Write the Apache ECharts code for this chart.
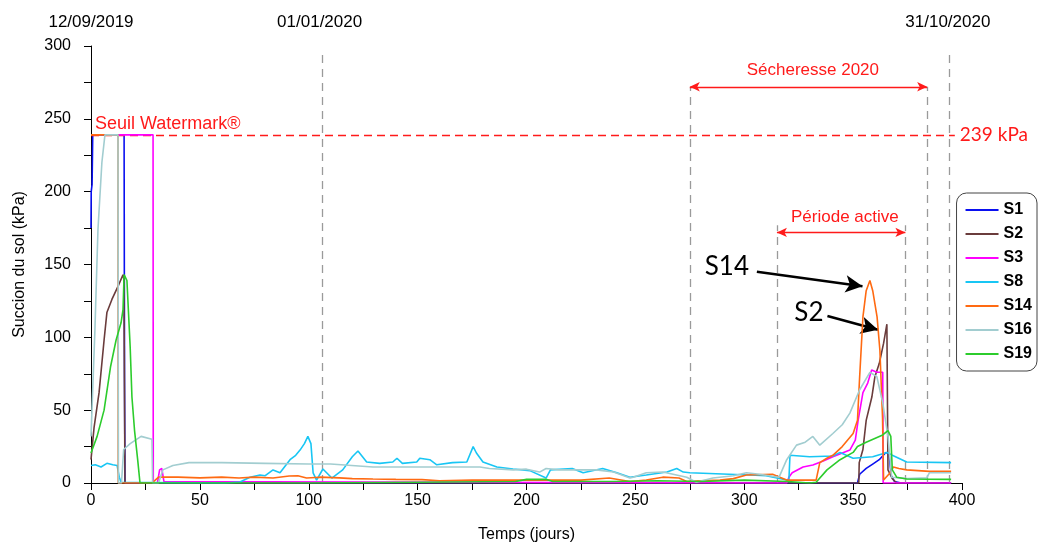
<!DOCTYPE html>
<html><head><meta charset="utf-8">
<script src="https://cdn.jsdelivr.net/npm/echarts@6/dist/echarts.min.js"></script>
<style>html,body{margin:0;padding:0;background:#fff}#c{width:1042px;height:544px}</style>
</head><body><div id="c"></div>
<script>
// ---- data (day, kPa) ----
const seriesNames = ['S1','S2','S3','S8','S14','S16','S19'];
const seriesColors = ['#0a10f0','#6a3c3c','#ff00ff','#18c6f4','#ff6a12','#a2cdd0','#2ccc2c'];

const s1 = [[0,175],[0.1,200],[0.5,205],[0.8,239],[15.2,239],[15.4,72],[15.6,0],[352,0],[353,6],[356,10],[359,13],[362,16],[365,21],[366.5,20],[367.5,5],[369,1],[372,0],[395,0]];
const s2 = [[0,16],[1.4,38],[3.7,62],[6,98],[7.3,117],[9.6,126],[12.4,135],[14.7,143],[15.1,140],[15.6,0],[352.6,0],[352.8,14],[354.5,23],[356,43],[358.6,59],[360,73],[362,82],[364,96],[365.5,109],[366,9],[368,3],[370,0],[395,0]];
const s3 = [[12.4,239],[28.5,239],[28.6,0],[30.5,0],[31.5,9],[32.5,10],[33.5,1],[34,0],[319.5,0],[320.5,4],[322,7],[327,11],[331.5,12.4],[336,15],[340.7,18],[348.5,22.6],[351,29.5],[352.3,43],[354.5,62],[356.7,68.6],[358.5,77.6],[360.9,76],[363.6,76],[363.8,0],[395,0]];
const s8 = [[0,12],[2,12.5],[4.6,11],[7.3,13.5],[10,12.5],[12,12],[13,4],[13.8,0.5],[14.5,0],[61.5,0],[68.4,0.7],[73,4],[77.6,5.5],[80,5],[83.6,9],[86.8,7],[91.4,16],[94,19],[96,22.6],[98,27],[99.6,32],[101,27],[102,7],[103.6,2],[106.5,9.6],[110.6,3.4],[115.6,9],[120,18],[122.6,22],[126.6,14.4],[132.6,13.5],[138.6,14.4],[140.5,17],[143,13.5],[149.6,14.4],[151,17],[155.6,16],[158.8,12.5],[166,14],[172.6,14.4],[175.5,25],[177,20.6],[180,14.4],[186.4,11],[193.8,9.6],[201.5,8.5],[209,3.4],[211,9],[221,10],[226,7],[235,10],[241.5,7],[247.5,4],[255,5.5],[264.5,7.5],[269,10],[272,7.5],[275,7],[293,6],[302.5,5.5],[310,5],[319.5,2],[320.5,2],[321,19],[330,18],[340.7,18.5],[344,21],[350,17],[359,18],[365.5,21],[368,19],[374.6,14.4],[395,14]];
const s14 = [[0,239],[12.4,239],[12.5,0],[28,0],[29.5,2],[31,4],[40,4],[50,3.5],[60,4],[68,3.4],[75,4],[83.6,3.4],[91,4.8],[95,5],[99,3.4],[105,4],[114,3.5],[120,3],[129.5,2.7],[140,2.5],[152,2.3],[160,1.5],[175,2],[190,2],[210,2],[225,2],[238,3.4],[247.5,1],[255,2],[262.6,4],[270,3.4],[273.6,1],[280,1.5],[288.8,2],[295,3],[301,5.5],[313,6],[316.3,4],[319.5,2],[333,2],[334.7,14],[337.9,17],[340.7,19],[345,25],[350,34],[352,43],[353,73],[354.5,114],[356,132],[357.7,139],[359,132],[361,114],[362.3,91],[363.5,45],[364,2],[367,7],[368.5,11],[371,10],[374.6,9],[385,8],[395,8]];
const s16 = [[0,32],[1.8,105],[3.2,174],[5,220],[6.4,239],[12.4,239],[12.6,0],[14,0],[15,23],[18,27],[23,32],[28,30],[28.3,0],[31,0],[33,9],[37.6,12],[45,14],[60,14],[80,13.5],[100,13],[110,13],[129.5,11],[155.6,11],[178.6,11],[183,10],[194,9],[200,9.5],[206,7.5],[209,10],[215,9],[224.5,9],[232,9],[240,7.5],[247.5,3.5],[249,4],[255,7],[262.6,7.5],[273.6,4],[278,0.5],[285.6,3.4],[295,5],[301,7],[307,6],[316,4],[319.5,16],[324,26],[328,28],[331.5,32],[334.7,26],[340.7,34],[345,40],[348.5,48],[353,64],[357.7,76],[360.9,73],[363.6,55],[366,32],[367.7,4],[375,3],[383.8,3.5],[385,7],[395,7]];
const s19 = [[0,20.6],[2.8,32],[6,50],[9,80],[11.5,98],[13.8,110],[14.7,119],[15.2,143],[16.5,139],[18,93],[18.8,59],[20,36],[21.5,15],[22.5,0],[100,0],[150,0.5],[195,1],[200,2.5],[209,2.5],[212,1],[240,1],[260,1.5],[280,1],[300,2],[320,1],[330,0],[333,0.5],[338,9],[344,16],[350,21],[352,25],[356,28],[363.6,33],[366,36],[367.3,32],[368,9],[370,4],[374.6,2.7],[395,2.5]];
const seriesData = [s1,s2,s3,s8,s14,s16,s19];

// annotations (data units)
const thresholdValue = 239;
const markerDays = [106,275,315,374,384,394];
const markerTops = [296,272,177,177,272,296];
const topDateLabels = ['12/09/2019','01/01/2020','31/10/2020'];
const topDateDays = [0,105,393.5];
const droughtSpan = [275,384,272];
const activeSpan = [315,374,172];
const arrowS14 = [[305.8,145],[354.3,135.1]];
const arrowS2 = [[338.2,114.6],[361.4,105.2]];

const chart = echarts.init(document.getElementById('c'), null, {renderer:'canvas'});
const AX = 'Liberation Sans, Arial, sans-serif';

const markData = [];
markerDays.forEach((d,i)=>markData.push([{coord:[d,0],lineStyle:{color:'#9a9a9a',type:[8,6],width:1.3}},{coord:[d,markerTops[i]]}]));
markData.push([{coord:[0,thresholdValue],lineStyle:{color:'#ff1a1a',type:[8,5],width:1.3}},{coord:[396.7,thresholdValue]}]);
markData.push([{coord:[droughtSpan[0],droughtSpan[2]],symbol:'arrow',lineStyle:{color:'#ff1a1a',type:'solid',width:1.3}},{coord:[droughtSpan[1],droughtSpan[2]],symbol:'arrow'}]);
markData.push([{coord:[activeSpan[0],activeSpan[2]],symbol:'arrow',lineStyle:{color:'#ff1a1a',type:'solid',width:1.3}},{coord:[activeSpan[1],activeSpan[2]],symbol:'arrow'}]);

const arrowData = [
  [{coord:arrowS14[0]},{coord:arrowS14[1]}],
  [{coord:arrowS2[0]},{coord:arrowS2[1]}]
];

const series = seriesNames.map((n,i)=>({
  name:n, type:'line', data:seriesData[i], showSymbol:false, symbol:'none',
  color:seriesColors[i], lineStyle:{width:1.6,color:seriesColors[i]}, animation:false, z:3+i
}));
series.unshift({
  name:'ann', type:'line', data:[], animation:false, z:2,
  markLine:{silent:true, symbol:['none','none'], symbolSize:[7,10], label:{show:false}, animation:false, data:markData}
});
series.push({
  name:'arrows', type:'line', data:[], animation:false, z:20,
  markLine:{silent:true, symbol:['none','arrow'], symbolSize:[13,17], label:{show:false}, animation:false,
    lineStyle:{color:'#000',type:'solid',width:2.6}, data:arrowData}
});

chart.setOption({
  animation:false,
  backgroundColor:'#fff',
  grid:{left:91,right:80,top:46,bottom:61,containLabel:false,outerBoundsMode:'none'},
  xAxis:{type:'value',min:0,max:400,interval:50,
    name:'Temps (jours)',nameLocation:'middle',nameGap:44,nameTextStyle:{fontSize:16,fontFamily:AX,color:'#000'},
    axisLine:{lineStyle:{color:'#000',width:1}},
    axisTick:{length:7,lineStyle:{color:'#000'}},
    minorTick:{show:true,splitNumber:2,length:7,lineStyle:{color:'#000'}},
    axisLabel:{fontSize:16,fontFamily:AX,color:'#000',margin:10},
    splitLine:{show:false}},
  yAxis:{type:'value',min:0,max:300,interval:50,
    name:'Succion du sol (kPa)',nameLocation:'middle',nameGap:63,nameRotate:90,nameTextStyle:{fontSize:16,fontFamily:AX,color:'#000'},
    axisLine:{show:true,lineStyle:{color:'#000',width:1}},
    axisTick:{show:true,length:7,lineStyle:{color:'#000'}},
    minorTick:{show:true,splitNumber:2,length:7,lineStyle:{color:'#000'}},
    axisLabel:{fontSize:16,fontFamily:AX,color:'#000',margin:20},
    splitLine:{show:false}},
  legend:{data:seriesNames,orient:'vertical',right:5,top:193,icon:'rect',itemWidth:33,itemHeight:2,itemGap:8,
    textStyle:{fontSize:16,fontWeight:'bold',fontFamily:AX,color:'#000'},
    borderColor:'#444',borderWidth:1,borderRadius:10,padding:[9,5,9,9]},
  series:series
});

function P(x,y){return chart.convertToPixel({gridIndex:0},[x,y]);}
const g = [];
function txt(x,y,text,opt){
  const p=P(x,y);
  g.push({type:'text',x:p[0],y:p[1],z:50,style:Object.assign({text:text,fill:'#000',fontFamily:AX,fontSize:16,textAlign:'center',textVerticalAlign:'middle'},opt||{})});
}
topDateLabels.forEach((t,i)=>txt(topDateDays[i],316.5,t,{fontSize:17}));
txt(1.8,246.2,'Seuil Watermark®',{fill:'#ff1a1a',fontSize:18,textAlign:'left'});
txt(399,239,'239 kPa',{fill:'#ff1a1a',fontSize:19,textAlign:'left',fontFamily:'Lato, sans-serif'});
txt(331.5,283.5,'Sécheresse 2020',{fill:'#ff1a1a',fontSize:17});
txt(346.2,182.6,'Période active',{fill:'#ff1a1a',fontSize:17});
txt(292,148.4,'S14',{fontSize:26,fontFamily:'Lato, sans-serif'});
txt(329.7,116.7,'S2',{fontSize:26,fontFamily:'Lato, sans-serif'});
chart.setOption({graphic:g});
</script></body></html>
